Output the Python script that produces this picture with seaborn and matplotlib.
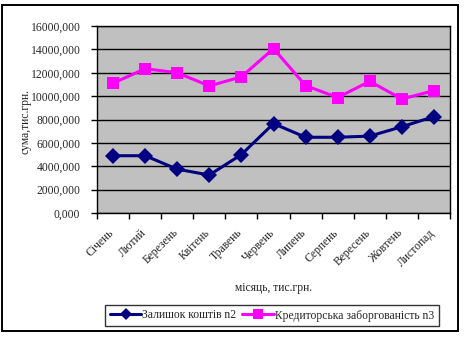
import numpy as np
import pandas as pd
import matplotlib
matplotlib.use("Agg")
import matplotlib.pyplot as plt
from matplotlib.lines import Line2D
from matplotlib.patches import Rectangle
from matplotlib.ticker import FixedLocator, FuncFormatter
from matplotlib.transforms import ScaledTranslation
import seaborn as sns

months = ["Січень", "Лютий", "Березень", "Квітень", "Травень", "Червень",
          "Липень", "Серпень", "Вересень", "Жовтень", "Листопад"]
balance_n2 = [4900, 4900, 3750, 3250, 5000, 7650,
              6480, 6480, 6580, 7380, 8250]
payables_n3 = [11100, 12350, 12000, 10870, 11650, 14070,
               10900, 9880, 11270, 9750, 10470]
series_names = ["Залишок коштів n2", "Кредиторська заборгованість n3"]
y_ticks = [0, 2000, 4000, 6000, 8000, 10000, 12000, 14000, 16000]

sns.set_theme(style="white")
plt.rcParams["font.family"] = ["Liberation Serif", "DejaVu Serif"]
FS = 8.4

df = pd.DataFrame({
    "idx": list(range(len(months))) * 2,
    "value": balance_n2 + payables_n3,
    "series": [series_names[0]] * len(months) + [series_names[1]] * len(months),
})

W, H = 465, 337
fig = plt.figure(figsize=(W / 100, H / 100), dpi=100)
fig.patch.set_facecolor("white")

# outer chart frame
fig.patches.append(Rectangle((1.5 / W, 1 - 331 / H), 456.5 / W, 326 / H,
                             transform=fig.transFigure, fill=False,
                             edgecolor="black", linewidth=1.4))

ax = fig.add_axes([97 / W, 1 - 213 / H, 353 / W, 187 / H])
ax.set_facecolor("#C0C0C0")

palette = {series_names[0]: "#000080", series_names[1]: "#FF00FF"}
markers = {series_names[0]: "D", series_names[1]: "s"}
sns.lineplot(data=df, x="idx", y="value", hue="series", style="series",
             palette=palette, markers=markers, dashes=False, sort=False,
             linewidth=2.2, markeredgewidth=0, legend=False, ax=ax)
for line in ax.lines:
    if line.get_marker() == "s":
        line.set_markersize(8.6)
    else:
        line.set_markersize(8.0)

ax.set_xlim(-0.5, len(months) - 0.5)
ax.set_ylim(0, 16000)
ax.set_yticks(y_ticks)
ax.yaxis.set_major_formatter(
    FuncFormatter(lambda v, p: f"{v:.3f}".replace(".", ",")))
ax.grid(axis="y", color="black", linewidth=1.0)
ax.set_axisbelow(True)

ax.set_xticks(range(len(months)))
ax.set_xticklabels(months, rotation=45, ha="right", rotation_mode="anchor",
                   fontsize=FS)
ax.xaxis.set_minor_locator(FixedLocator(np.arange(-0.5, len(months), 1.0)))
ax.tick_params(axis="x", which="major", length=0, pad=10)
ax.tick_params(axis="x", which="minor", length=4, width=1, color="black",
               direction="out", bottom=True)
ax.tick_params(axis="y", length=4, width=1, color="black", direction="out",
               labelsize=FS, pad=8, left=True)
shift = ScaledTranslation(-5 / 100, 0, fig.dpi_scale_trans)
for lab in ax.get_xticklabels():
    lab.set_transform(lab.get_transform() + shift)

for s in ax.spines.values():
    s.set_color("black")
    s.set_linewidth(1.0)

ax.set_xlabel("місяць, тис.грн.", fontsize=FS)
ax.set_ylabel("")
fig.text(25 / W, 1 - 121 / H, "сума,тис.грн.", rotation=90, fontsize=FS,
         ha="center", va="center")
ax.xaxis.set_label_coords(0.5, -(282 - 213) / 187)

handles = [Line2D([], [], color="#000080", marker="D", markersize=6.0,
                  linewidth=2.2, markeredgewidth=0),
           Line2D([], [], color="#FF00FF", marker="s", markersize=6.5,
                  linewidth=2.2, markeredgewidth=0)]
leg = fig.legend(handles, series_names, loc="center",
                 bbox_to_anchor=(272 / W, 1 - 315.5 / H), ncol=2,
                 fontsize=FS, frameon=True, fancybox=False, handlelength=2.7,
                 handletextpad=0.1, columnspacing=0.5, borderpad=0.4,
                 borderaxespad=0)
leg.get_frame().set_edgecolor("black")
leg.get_frame().set_linewidth(1.0)

fig.savefig("out.png", dpi=100, facecolor="white")
